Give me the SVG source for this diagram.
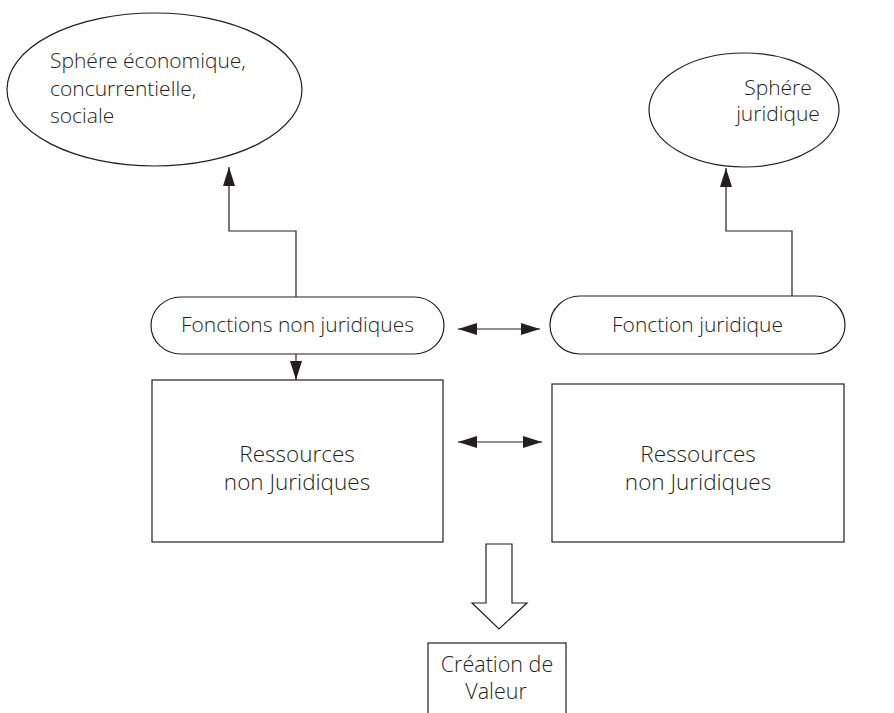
<svg xmlns="http://www.w3.org/2000/svg" width="894" height="713" viewBox="0 0 894 713">
<defs>
<marker id="ah" markerUnits="userSpaceOnUse" markerWidth="20" markerHeight="14" refX="19" refY="6.5" orient="auto-start-reverse">
<path d="M0,0.5 L19,6.5 L0,12.5 Z" fill="#231f20"/>
</marker>
<style>
.shape{fill:#fff;stroke:#231f20;stroke-width:1.2}
.line{fill:none;stroke:#231f20;stroke-width:1.2}
.t{font-family:"Open Sans","Noto Sans",sans-serif;fill:#231f20;font-weight:300}
.t20{font-size:21px}
.t22{font-size:22.5px}
.t21{font-size:21.5px}
.c{text-anchor:middle}
</style>
</defs>
<rect width="894" height="713" fill="#fff"/>

<g id="sphere-eco">
<ellipse class="shape" cx="154.5" cy="89.5" rx="147.5" ry="76.5"/>
<text class="t t20" x="50" y="68">Sphére économique,</text>
<text class="t t20" x="50" y="96">concurrentielle,</text>
<text class="t t20" x="50" y="123">sociale</text>
</g>

<g id="sphere-jur">
<ellipse class="shape" cx="744" cy="110" rx="95" ry="57"/>
<text class="t t20 c" x="778" y="95">Sphére</text>
<text class="t t20 c" x="778" y="121">juridique</text>
</g>

<g id="fonctions-nj">
<rect class="shape" x="151" y="297" width="293" height="57" rx="30" ry="28.5"/>
<text class="t t20 c" x="297.5" y="332">Fonctions non juridiques</text>
</g>

<g id="fonction-j">
<rect class="shape" x="550" y="296" width="295" height="58" rx="30" ry="29"/>
<text class="t t20 c" x="697.5" y="332">Fonction juridique</text>
</g>

<g id="ressources-left">
<rect class="shape" x="152" y="380" width="291" height="162"/>
<text class="t t22 c" x="297" y="462">Ressources</text>
<text class="t t22 c" x="297" y="490">non Juridiques</text>
</g>

<g id="ressources-right">
<rect class="shape" x="552" y="384" width="292" height="158"/>
<text class="t t22 c" x="698" y="462">Ressources</text>
<text class="t t22 c" x="698" y="490">non Juridiques</text>
</g>

<g id="creation">
<rect class="shape" x="428" y="643" width="138" height="90"/>
<text class="t t21 c" x="497" y="672">Création de</text>
<text class="t t21 c" x="496" y="699">Valeur</text>
</g>

<g id="connectors">
<polyline class="line" points="296,297 296,231 229,231 229,167" marker-end="url(#ah)"/>
<polyline class="line" points="792,296 792,231 726,231 726,168" marker-end="url(#ah)"/>
<line class="line" x1="296" y1="354" x2="296" y2="380" marker-end="url(#ah)"/>
<line class="line" x1="458" y1="329" x2="540" y2="329" marker-start="url(#ah)" marker-end="url(#ah)"/>
<line class="line" x1="458" y1="442" x2="542" y2="442" marker-start="url(#ah)" marker-end="url(#ah)"/>
<path class="shape" d="M486,544 L512,544 L512,603 L527,603 L499,629 L472,603 L486,603 Z"/>
</g>
</svg>
